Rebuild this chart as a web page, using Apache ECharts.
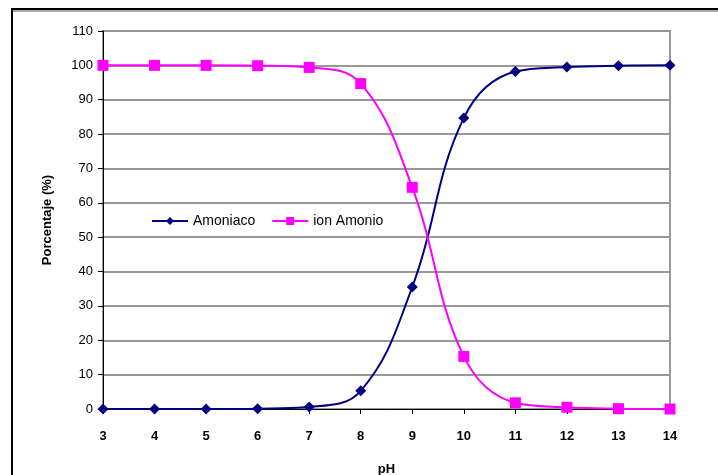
<!DOCTYPE html>
<html>
<head>
<meta charset="utf-8">
<script src="https://cdn.jsdelivr.net/npm/echarts@6/dist/echarts.min.js"></script>
<style>
  html, body { margin: 0; padding: 0; background: #fff; }
  #chart { width: 718px; height: 475px; }
</style>
</head>
<body>
<div id="chart"></div>
<script>
// pH values and percentages
const phValues = [3, 4, 5, 6, 7, 8, 9, 10, 11, 12, 13, 14];
const amoniaco = [0, 0, 0, 0.1, 0.6, 5.3, 35.5, 84.7, 98.2, 99.5, 99.9, 100];
const ionAmonio = [100, 100, 100, 99.9, 99.4, 94.7, 64.5, 15.3, 1.8, 0.5, 0.1, 0];
const yTicks = [0, 10, 20, 30, 40, 50, 60, 70, 80, 90, 100, 110];

const labelFont = { fontFamily: "Liberation Sans, Arial, sans-serif", fontSize: 13, color: "#000" };

const chart = echarts.init(document.getElementById("chart"));

chart.setOption({
  animation: false,
  graphic: [
    {
      // outer frame of the original sheet
      type: "rect",
      shape: { x: 12, y: 9, width: 720, height: 480 },
      style: { fill: "none", stroke: "#000", lineWidth: 2 },
    },
    {
      type: "line",
      shape: { x1: 13, y1: 11, x2: 718, y2: 11 },
      style: { stroke: "#aaa", lineWidth: 2 },
    },
  ],
  grid: {
    left: 103,
    right: 48,
    top: 31,
    bottom: 66,
    outerBoundsMode: "none",
    show: true,
    borderColor: "#999",
    borderWidth: 2,
  },
  legend: {
    left: 146,
    top: 209,
    itemGap: 16,
    itemWidth: 36,
    itemHeight: 10,
    textStyle: { ...labelFont, fontSize: 14 },
    data: ["Amoniaco", "ion Amonio"],
  },
  xAxis: {
    type: "value",
    min: 3,
    max: 14,
    interval: 1,
    name: "pH",
    nameLocation: "middle",
    nameGap: 54,
    nameTextStyle: { ...labelFont, fontWeight: "bold" },
    axisLine: { lineStyle: { color: "#000", width: 1 } },
    axisTick: { length: 5, lineStyle: { color: "#000" } },
    axisLabel: { ...labelFont, fontWeight: "bold", margin: 21 },
    splitLine: { show: false },
  },
  yAxis: {
    type: "value",
    min: 0,
    max: 110,
    interval: 10,
    name: "Porcentaje (%)",
    nameLocation: "middle",
    nameGap: 49,
    nameTextStyle: { ...labelFont, fontWeight: "bold" },
    axisLine: { show: true, lineStyle: { color: "#000", width: 1 } },
    axisTick: { show: true, length: 5, lineStyle: { color: "#000" } },
    axisLabel: {
      ...labelFont,
      margin: 10,
      formatter: (v) => (yTicks.includes(v) ? String(v) : ""),
    },
    splitLine: { lineStyle: { color: "#999", width: 2 } },
  },
  series: [
    {
      name: "Amoniaco",
      type: "line",
      data: phValues.map((p, i) => [p, amoniaco[i]]),
      smooth: 0.4,
      clip: false,
      symbol: "diamond",
      symbolSize: 11,
      itemStyle: { color: "#000080" },
      lineStyle: { color: "#000080", width: 2 },
      z: 3,
    },
    {
      name: "ion Amonio",
      type: "line",
      data: phValues.map((p, i) => [p, ionAmonio[i]]),
      smooth: 0.4,
      clip: false,
      symbol: "rect",
      symbolSize: 11,
      itemStyle: { color: "#ff00ff" },
      lineStyle: { color: "#ff00ff", width: 2 },
      z: 4,
    },
  ],
});
</script>
</body>
</html>
